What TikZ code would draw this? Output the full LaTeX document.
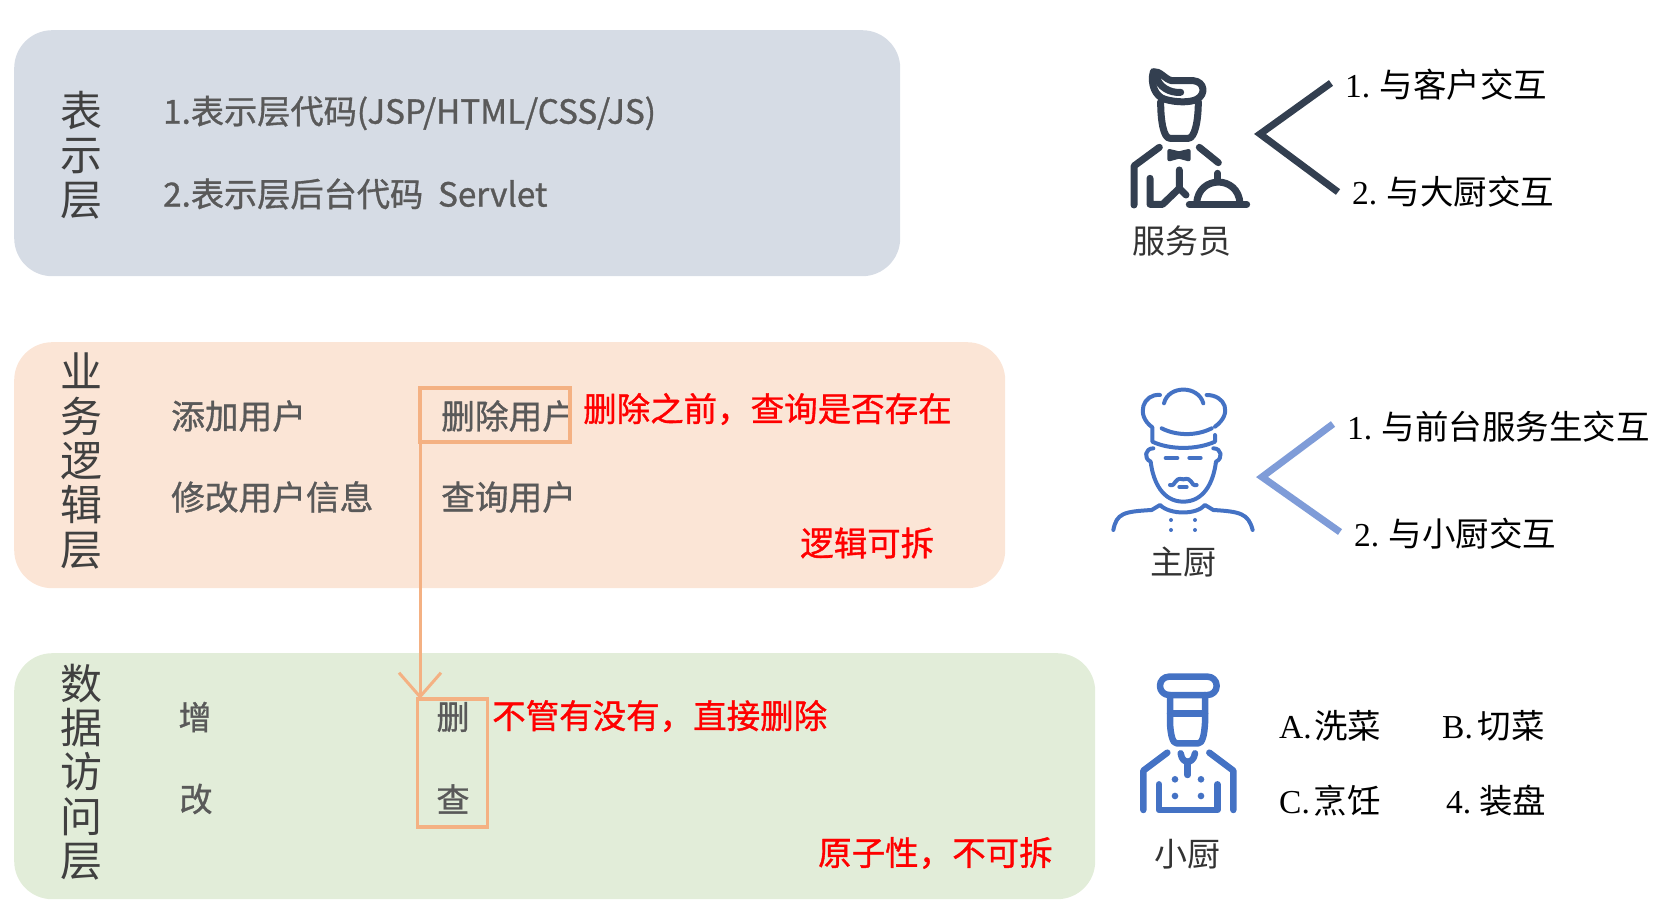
\documentclass[tikz,border=0pt]{standalone}
\usepackage{fontspec}
\usetikzlibrary{arrows.meta}
\setmainfont{Noto Sans CJK SC}
\newfontfamily\latf{Liberation Serif}
\newfontfamily\medf[FakeBold=1]{Noto Sans CJK SC}
\definecolor{bluebg}{HTML}{D6DCE5}
\definecolor{orangebg}{HTML}{FBE5D6}
\definecolor{greenbg}{HTML}{E2EDD9}
\definecolor{txtgrey}{HTML}{595959}
\definecolor{boxor}{HTML}{F4B183}
\definecolor{navy}{HTML}{333F50}
\definecolor{chefblue}{HTML}{4472C4}
\definecolor{lightblue}{HTML}{7F9CD8}
\newcommand{\fs}[1]{\fontsize{#1}{#1}\selectfont}
\tikzset{
 x=1pt,y=-1pt,
 layerbox/.style={rounded corners=38pt,minimum height=#1,inner sep=0pt,anchor=north west},
 layername/.style={align=center,font=\fontsize{42}{44.4}\selectfont,text=black!75,inner sep=0pt},
 item/.style={anchor=west,font=\fs{33.7}\medf,text=txtgrey,inner sep=0pt},
 iteml/.style={anchor=west,font=\fs{33.2}\medf,text=txtgrey,inner sep=0pt},
 itemc/.style={anchor=center,font=\fs{33}\medf,text=txtgrey,inner sep=0pt},
 note/.style={anchor=west,font=\fs{33.5}\medf,text=red,inner sep=0pt},
 serif/.style={anchor=west,font=\fs{33.5},text=black,inner sep=0pt},
 capt/.style={anchor=center,font=\fs{33},text=black!80,inner sep=0pt},
 hl/.style={draw=boxor,line width=3.5pt,inner sep=0pt,outer sep=0pt,anchor=north west},
 icon/.style={line cap=round,line join=round},
}
\begin{document}
\begin{tikzpicture}
\useasboundingbox (0,0) rectangle (1671,915);
\node[layerbox=246pt,fill=bluebg,minimum width=886pt] (pres) at (14,30) {};
\node[layerbox=246pt,fill=orangebg,minimum width=991pt] (biz) at (14,342) {};
\node[layerbox=246pt,fill=greenbg,minimum width=1081pt] (data) at (14,653) {};

\node[layername] (presname) at (81,155) {表\\示\\层};
\node[layername] (bizname) at (81,461) {业\\务\\逻\\辑\\层};
\node[layername] (dataname) at (81,772) {数\\据\\访\\问\\层};

\node[iteml] (p1) at (163,113) {1.表示层代码(JSP/HTML/CSS/JS)};
\node[iteml] (p2) at (163,194) {2.表示层后台代码\ \ Servlet};
\node[item] (b1) at (171,416) {添加用户};
\node[item] (b2) at (171,497) {修改用户信息};
\node[item] (b3) at (441,416) {删除用户};
\node[item] (b4) at (441,497) {查询用户};
\node[itemc] (d1) at (195,717) {增};
\node[itemc] (d2) at (196,799) {改};
\node[itemc] (d3) at (453,717) {删};
\node[itemc] (d4) at (453,799) {查};

\node[note] (n1) at (583,409) {删除之前，查询是否存在};
\node[note] (n2) at (800,543) {逻辑可拆};
\node[note] (n3) at (492,716) {不管有没有，直接删除};
\node[note] (n4) at (818,853) {原子性，不可拆};

\node[hl,minimum width=150pt,minimum height=54pt] (delbox) at (420,388) {};
\node[hl,minimum width=70pt,minimum height=128pt] (datbox) at (417.5,699) {};
\draw[boxor,line width=3pt,-{Straight Barb[length=24pt,width=42pt,line width=3pt]}] (delbox.south west) -- (delbox.south west |- datbox.north);

% waiter
\begin{scope}[shift={(1090,40)},x=0.3333pt,y=-0.3333pt,icon,draw=navy,line width=7pt]
\draw (190,95) .. controls (180,130) and (195,170) .. (225,178) .. controls (260,188) and (300,188) .. (320,178) .. controls (348,165) and (345,125) .. (310,122) -- (245,122) .. controls (225,118) and (210,92) .. (190,95);
\draw (200,110) .. controls (205,140) and (240,160) .. (272,157);
\draw (212,185) .. controls (212,240) and (220,295) .. (240,295) -- (295,295) .. controls (315,295) and (325,240) .. (325,185);
\draw (208,322) -- (132,378) -- (132,495);
\draw (328,322) -- (385,368);
\draw[fill=navy,line width=4pt] (238,333) -- (267,340) -- (296,333) -- (296,358) -- (267,350) -- (238,358) -- cycle;
\draw (180,415) -- (180,493) -- (218,493) -- (268,445);
\draw (268,390) -- (268,445) -- (288,465);
\draw (298,493) -- (470,493);
\draw (320,490) .. controls (325,405) and (445,405) .. (450,490);
\draw (383,400) -- (383,425);
\end{scope}
% chef
\begin{scope}[shift={(1090,370)},x=0.3333pt,y=-0.3333pt,icon,draw=chefblue,fill=chefblue,line width=4pt]
\draw (210,75) .. controls (160,70) and (135,135) .. (187,172) -- (187,215) .. controls (240,240) and (320,240) .. (375,215) -- (375,195);
\draw (222,100) .. controls (235,45) and (325,45) .. (340,100);
\draw (350,75) .. controls (405,75) and (430,130) .. (375,170);
\draw (215,175) .. controls (260,198) and (320,198) .. (365,175);
\draw (190,235) .. controls (165,235) and (160,265) .. (182,275) .. controls (190,340) and (220,395) .. (280,395) .. controls (340,395) and (370,340) .. (378,275) .. controls (400,265) and (395,235) .. (370,235);
\draw (227,264) -- (262,264);
\draw (298,264) -- (332,264);
\draw (240,345) .. controls (260,350) and (250,320) .. (280,328) .. controls (310,320) and (300,350) .. (320,345);
\draw (268,351) -- (290,351);
\draw (70,480) .. controls (80,430) and (100,425) .. (185,420) -- (210,405) .. controls (240,435) and (320,435) .. (345,405) -- (370,420) .. controls (450,425) and (475,430) .. (488,480);
\foreach \p in {(243,450),(243,480),(315,450),(315,480)} \fill \p circle (6);
\end{scope}
% cook
\begin{scope}[shift={(1110,660)},x=0.3333pt,y=-0.3333pt,icon,draw=chefblue,fill=chefblue,line width=6.5pt]
\draw[rounded corners=9pt] (150,50) rectangle (320,105);
\draw (180,105) -- (180,190) .. controls (182,225) and (188,250) .. (200,250) -- (265,250) .. controls (277,250) and (283,225) .. (285,190) -- (285,105);
\draw (180,160) -- (285,160);
\draw (172,278) -- (100,332) -- (100,450);
\draw (298,278) -- (370,332) -- (370,450);
\draw (212,280) .. controls (215,300) and (225,305) .. (233,305) .. controls (241,305) and (252,300) .. (255,280);
\draw (233,305) -- (233,345);
\foreach \p in {(195,358),(273,358),(195,408),(273,408)} \fill \p circle (10);
\draw (147,373) -- (147,450) -- (322,450) -- (322,373);
\end{scope}

% angle brackets
\coordinate (wa) at (1331,83); \coordinate (wb) at (1260,134); \coordinate (wc) at (1338,192);
\draw[navy,line width=7pt,miter limit=10] (wa) -- (wb) -- (wc);
\coordinate (ca) at (1333,424); \coordinate (cb) at (1262,477); \coordinate (cc) at (1340,532);
\draw[lightblue,line width=7pt,miter limit=10] (ca) -- (cb) -- (cc);

\node[serif] (w1) at (1345,85) {{\latf 1.}\hspace{9.5pt}与客户交互};
\node[serif] (w2) at (1352,192) {{\latf 2.}\hspace{9.5pt}与大厨交互};
\node[capt] (wn) at (1182,241) {服务员};
\node[serif] (c1) at (1347,427) {{\latf 1.}\hspace{9.5pt}与前台服务生交互};
\node[serif] (c2) at (1354,534) {{\latf 2.}\hspace{9.5pt}与小厨交互};
\node[capt] (cn) at (1183,562) {主厨};
\node[serif] (k1) at (1279,726) {{\latf A.}\hspace{2.5pt}洗菜};
\node[serif] (k2) at (1442,726) {{\latf B.}\hspace{5pt}切菜};
\node[serif] (k3) at (1279,801) {{\latf C.}\hspace{4pt}烹饪};
\node[serif] (k4) at (1446,801) {{\latf 4.}\hspace{8pt}装盘};
\node[capt] (kn) at (1187,854) {小厨};
\end{tikzpicture}
\end{document}
